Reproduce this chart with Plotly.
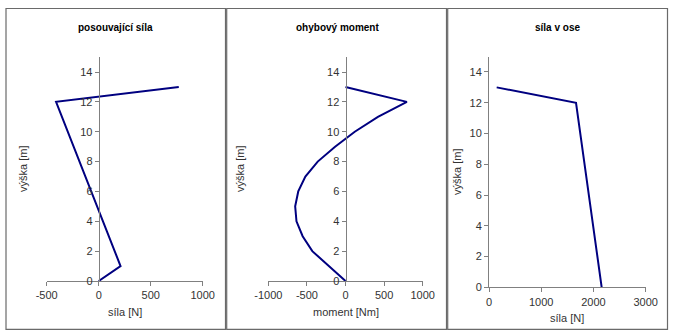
import plotly.graph_objects as go

# --- data -------------------------------------------------------------
# shear force along the height
vyska_V = [0, 1, 12, 13]
sila_V = [0, 210, -410, 770]

# bending moment along the height
vyska_M = [0, 1, 2, 3, 4, 5, 6, 7, 8, 9, 10, 11, 12, 13]
moment_M = [0, -215, -430, -555, -635, -652, -612, -520, -360, -135, 120, 420, 795, 0]

# axial force along the height
vyska_N = [0, 12, 13]
sila_N = [2157, 1666, 147]

titles = ["posouvající síla", "ohybový moment", "síla v ose"]
x_titles = ["síla [N]", "moment [Nm]", "síla [N]"]
y_title = "výška [m]"
y_ticks = [0, 2, 4, 6, 8, 10, 12, 14]
x_ticks_V = [-500, 0, 500, 1000]
x_ticks_M = [-1000, -500, 0, 500, 1000]
x_ticks_N = [0, 1000, 2000, 3000]

# --- layout helpers ---------------------------------------------------
W, H = 676, 335
FONT = "Liberation Sans, Arial, sans-serif"
LINE = "#000080"
AXIS = "#808080"
TXT = "#333333"


def px(x):
    return x / W


def py(y):
    return 1 - y / H


def labels(vals):
    # plain hyphen for negative numbers
    return [str(v) for v in vals]


fig = go.Figure()

fig.add_trace(go.Scatter(x=sila_V, y=vyska_V, mode="lines",
                         line=dict(color=LINE, width=2), xaxis="x", yaxis="y"))
fig.add_trace(go.Scatter(x=moment_M, y=vyska_M, mode="lines",
                         line=dict(color=LINE, width=2), xaxis="x2", yaxis="y2"))
fig.add_trace(go.Scatter(x=sila_N, y=vyska_N, mode="lines",
                         line=dict(color=LINE, width=2), xaxis="x3", yaxis="y3"))

common = dict(showline=True, linecolor=AXIS, linewidth=1, ticks="outside",
              ticklen=4, tickcolor=AXIS, showgrid=False, zeroline=False,
              automargin=False, tickmode="array",
              tickfont=dict(family=FONT, size=11, color=TXT), fixedrange=True)
common_y = dict(range=[0, 15], tickvals=y_ticks, ticktext=labels(y_ticks), **common)

fig.update_layout(
    template="none",
    width=W, height=H,
    margin=dict(l=0, r=0, t=0, b=0, pad=0),
    paper_bgcolor="white", plot_bgcolor="rgba(0,0,0,0)",
    showlegend=False,
    xaxis=dict(domain=[px(46.7), px(202.7)], range=[-500, 1000],
               tickvals=x_ticks_V, ticktext=labels(x_ticks_V), anchor="y", **common),
    yaxis=dict(domain=[py(281), py(57.1)], anchor="free",
               position=px(98.7), **common_y),
    xaxis2=dict(domain=[px(268.3), px(422.7)], range=[-1000, 1000],
                tickvals=x_ticks_M, ticktext=labels(x_ticks_M), anchor="y2", **common),
    yaxis2=dict(domain=[py(281), py(57.1)], anchor="free",
                position=px(345.5), **common_y),
    xaxis3=dict(domain=[px(489), px(645.7)], range=[0, 3000],
                tickvals=x_ticks_N, ticktext=labels(x_ticks_N), anchor="y3", **common),
    yaxis3=dict(domain=[py(287.3), py(56.6)], anchor="x3", **common_y),
)

# panel frames
frames = [(6, 225.5), (226.7, 446.5), (447.7, 667.5)]
for x0, x1 in frames:
    fig.add_shape(type="rect", xref="paper", yref="paper",
                  x0=px(x0), x1=px(x1), y0=py(329.3), y1=py(8.5),
                  line=dict(color="#6a6a6a", width=1.2), layer="below")

# chart titles
title_x = [115.5, 337, 557.5]
for t, cx in zip(titles, title_x):
    fig.add_annotation(text="<b>%s</b>" % t, x=px(cx), y=py(28), xref="paper",
                       yref="paper", showarrow=False, xanchor="center",
                       yanchor="middle", font=dict(family=FONT, size=10, color="black"))

# x-axis titles
xt_pos = [(124.7, 311.5), (345.5, 311.5), (567.3, 318)]
for t, (cx, cy) in zip(x_titles, xt_pos):
    fig.add_annotation(text=t, x=px(cx), y=py(cy), xref="paper", yref="paper",
                       showarrow=False, xanchor="center", yanchor="middle",
                       font=dict(family=FONT, size=11, color=TXT))

# y-axis titles
yt_pos = [(23, 169), (240, 169), (457, 172)]
for cx, cy in yt_pos:
    fig.add_annotation(text=y_title, x=px(cx), y=py(cy), xref="paper",
                       yref="paper", showarrow=False, textangle=-90,
                       xanchor="center", yanchor="middle",
                       font=dict(family=FONT, size=11, color=TXT))

fig.write_html("out.html", config={"displayModeBar": False})
